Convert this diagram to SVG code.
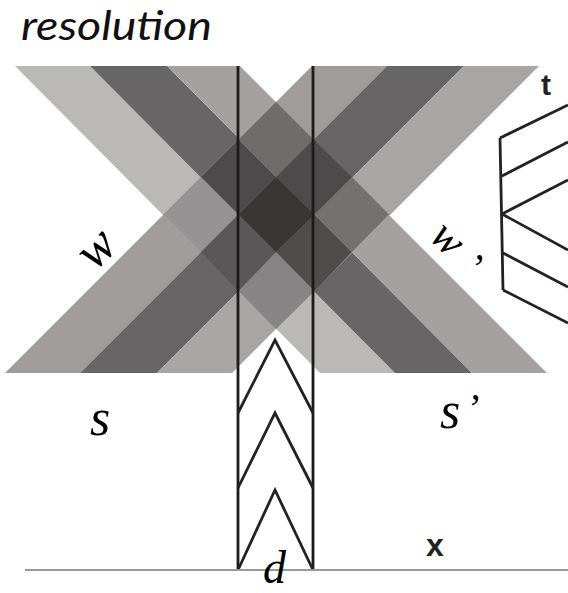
<svg xmlns="http://www.w3.org/2000/svg" width="568" height="593" viewBox="0 0 568 593">
<style>
.l{fill:none;stroke:#222;stroke-width:2.8}
.v{fill:none;stroke:#1c1c1c;stroke-width:2.8}
.i{font-family:"Liberation Serif",serif;font-style:italic;fill:#000}
.b{font-family:"Liberation Sans",sans-serif;font-weight:bold;fill:#222}
</style>
<rect width="568" height="593" fill="#fff"/>
<g id="bands">
<polygon points="15,66 90,66 395,373 320,373" fill="#bab9b8"/>
<polygon points="90,66 167,66 472,373 395,373" fill="#676566"/>
<polygon points="167,66 240,66 547,373 472,373" fill="#a5a1a1"/>
<polygon points="5,373 80,373 387,66 312,66" fill="#a09c9b"/>
<polygon points="80,373 157,373 464,66 387,66" fill="#676566"/>
<polygon points="157,373 232,373 539,66 464,66" fill="#a8a5a5"/>
</g>
<g id="overlaps">
<polygon points="163.5,214.5 201,177 238.5,214.5 201,252" fill="#959393"/>
<polygon points="201,177 238.5,139.5 276,177 238.5,214.5" fill="#4c4a4a"/>
<polygon points="238.5,139.5 276,102 313.5,139.5 276,177" fill="#6f6c6c"/>
<polygon points="201,252 238.5,214.5 276,252 238.5,291" fill="#595757"/>
<polygon points="238.5,214.5 276,177 314.5,214.5 276,252" fill="#393735"/>
<polygon points="276,177 313.5,139.5 352,177 314.5,214.5" fill="#4c4a4a"/>
<polygon points="238.5,291 276,252 314.5,291 276,329" fill="#868484"/>
<polygon points="276,252 314.5,214.5 352,252 314.5,291" fill="#4f4d4c"/>
<polygon points="314.5,214.5 352,177 389,214.5 352,252" fill="#747270"/>
</g>
<g id="connectors">
<path class="v" d="M238,66V570M313,66V570"/>
<path class="l" d="M238,413L275,340L313,413M238,488L275,413L313,488M238,570L275,490L313,570"/>
<path class="l" d="M500,138L503,290M500,138L568,105M502,176L568,142M502,214L568,180M502,214L568,250M503,253L568,287M503,290L568,323"/>
<path d="M25,570H568" fill="none" stroke="#999" stroke-width="2"/>
</g>
<text x="21" y="40" font-family="Lato,sans-serif" font-style="italic" font-size="40" fill="#111" textLength="191" lengthAdjust="spacingAndGlyphs">resolution</text>
<text class="i" font-size="52" transform="translate(95,272) rotate(-45)">w</text>
<text class="i" font-size="44" transform="translate(428,238) rotate(45)">w</text>
<text class="i" font-size="40" x="470" y="281">’</text>
<text class="i" font-size="52" x="90" y="435">s</text>
<text class="i" font-size="52" x="440" y="428">s</text>
<text class="i" font-size="40" x="466" y="421">’</text>
<text class="i" font-size="46" x="263" y="583">d</text>
<text class="b" font-size="32" x="426" y="556">x</text>
<text class="b" font-size="30" x="541" y="95">t</text>
</svg>
